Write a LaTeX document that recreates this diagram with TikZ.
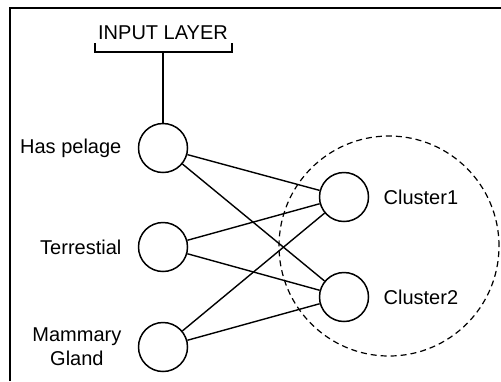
\documentclass[tikz,border=0pt]{standalone}
\usepackage{fontspec}
\setmainfont{Liberation Sans}
\usetikzlibrary{positioning}
\tikzset{
	unitnode/.style={
			circle,
			draw=black,
			line width=0.75pt,
			fill=white,
			minimum size=24.5pt,
			inner sep=0pt
		},
	labelnode/.style={
			inner sep=0pt,
			font=\fontsize{10}{12}\selectfont,
			align=center
		},
	linkline/.style={
			line width=0.7pt
		},
	clusterline/.style={
			line width=0.6pt,
			dash pattern=on 3pt off 2pt
		}
}

\begin{document}
\begin{tikzpicture}[x=0.5pt, y=-0.5pt]
\useasboundingbox (0,0) rectangle (501,381);

% frame
\draw[line width=1pt] (10,381) -- (10,8) -- (501,8);

% cluster region
\draw[clusterline] (389,246) circle (55pt);

% units
\node[unitnode] (n1) at (163,148) {};
\node[unitnode] (n2) at (163,247) {};
\node[unitnode] (n3) at (163,347) {};
\node[unitnode] (c1) at (344,197) {};
\node[unitnode] (c2) at (344,297) {};

\node[labelnode, left=8pt of n1] (l1) {Has pelage};
\node[labelnode, left=8pt of n2] (l2) {Terrestial};
\node[labelnode, left=8pt of n3] (l3) {Mammary\\Gland};
\node[labelnode, right=7pt of c1] (l4) {Cluster1};
\node[labelnode, right=7pt of c2] (l5) {Cluster2};

% input layer bracket
\node[labelnode] (inp) at (163,33) {INPUT LAYER};
\coordinate (bl) at (95,52);
\coordinate (br) at (232,52);
\coordinate (bm) at (163,52);
\draw[linkline] ([yshift=4.5pt]bl) -- (bl) -- (br) -- ([yshift=4.5pt]br);
\draw[linkline] (bm) -- (n1);

% links
\draw[linkline] (n1) -- (c1);
\draw[linkline] (n1) -- (c2);
\draw[linkline] (n2) -- (c1);
\draw[linkline] (n2) -- (c2);
\draw[linkline] (n3) -- (c1);
\draw[linkline] (n3) -- (c2);
\end{tikzpicture}
\end{document}
